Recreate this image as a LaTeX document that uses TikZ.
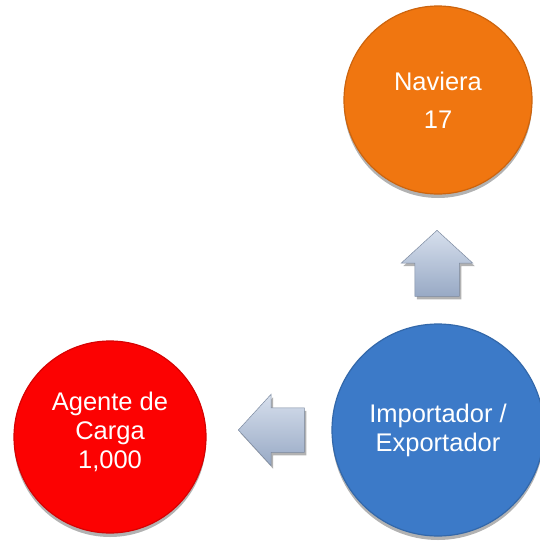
\documentclass[tikz,border=0pt]{standalone}
\usepackage{fontspec}
\setmainfont{Liberation Sans}
\usetikzlibrary{shapes.arrows,shadows}
\definecolor{navorange}{RGB}{240,118,16}
\definecolor{agred}{RGB}{252,2,2}
\definecolor{impblue}{RGB}{60,122,200}
\definecolor{arrowfill}{RGB}{165,184,214}
\begin{document}
\begin{tikzpicture}[x=1pt,y=-1pt,
  ball/.style={circle, inner sep=0pt, draw=#1!85!black, line width=1.2pt, fill=#1,
    text=white, font=\fontsize{25.5}{29}\selectfont, align=center,
    drop shadow={shadow xshift=0pt, shadow yshift=-4pt, opacity=0.3, fill=black}},
  blockarrow/.style={single arrow, inner xsep=0pt, inner ysep=22pt, minimum height=66pt,
    single arrow head extend=13.5pt, single arrow tip angle=95,
    top color=arrowfill!45!white, bottom color=arrowfill!92!black,
    draw=arrowfill!75!black, line width=0.5pt,
    drop shadow={shadow xshift=2pt, shadow yshift=-3pt, opacity=0.3, fill=black}}]
\useasboundingbox (0,0) rectangle (539,541);
\node[ball=navorange, minimum size=188pt] (nav) at (438,100) {Naviera\\[9pt]17};
\node[ball=impblue, minimum size=212pt] (imp) at (438,430) {Importador /\\Exportador};
\node[ball=agred, minimum size=192pt, text depth=14pt] (ag) at (110,437) {Agente de\\Carga\\1,000};
\node[blockarrow, rotate=90, anchor=tip] (up) at (437,230) {};
\node[blockarrow, rotate=180, anchor=tip] (left) at (238,430) {};
\end{tikzpicture}
\end{document}
